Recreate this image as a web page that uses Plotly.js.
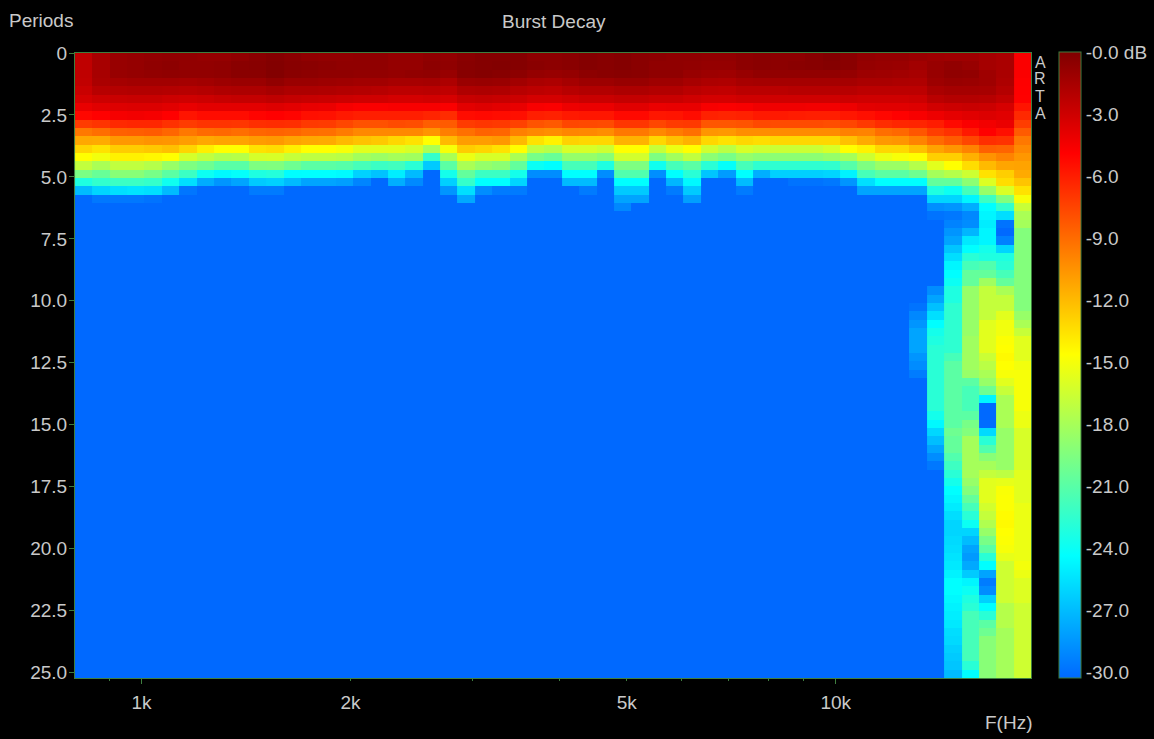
<!DOCTYPE html>
<html><head><meta charset="utf-8">
<script src="https://cdn.plot.ly/plotly-3.0.1.min.js"></script>
<style>html,body{margin:0;padding:0;background:#000}#p{width:1154px;height:739px}</style>
</head><body><div id="p"></div>
<script>
// Cell edges of the frequency axis, Hz
const freqEdges=[802.3,849.9,900.4,953.8,1010,1070,1134,1201,1273,1348,1428,1513,1603,1698,1799,1905,2018,2138,2265,2399,2542,2693,2852,3022,3201,3391,3592,3805,4031,4270,4524,4792,5077,5378,5697,6035,6394,6773,7175,7601,8052,8530,9036,9573,10140,10740,11380,12060,12770,13530,14330,15180,16080,17040,18050,19110];
// dB level per row (top to bottom) in each frequency column; rows not listed sit at the -30 dB floor
const c00=[-2.4,-2.4,-2.4,-2.5,-2.8,-3.2,-4,-5.1,-7.1,-9.4,-11.2,-12.9,-14.5,-16.8,-19.5,-23,-26.8];
const c01=[-1.5,-1.5,-1.5,-1.6,-2.1,-2.9,-3.7,-4.9,-6.8,-9,-11.3,-13.4,-15,-17.7,-20.2,-22.3,-25.8,-29.4];
const c02=[-0.9,-0.9,-0.9,-1.4,-2,-2.8,-3.6,-4.5,-6.4,-8.5,-10.6,-12.6,-14,-16.9,-19,-21.9,-25.4,-29.4];
const c03=[-0.8,-0.8,-0.8,-1.3,-1.9,-2.7,-3.5,-4.4,-6.3,-8.4,-10.6,-12.6,-14,-16.9,-19,-21.9,-25.2,-29.4];
const c04=[-0.7,-0.6,-0.7,-1.3,-1.9,-2.7,-3.5,-4.5,-6.3,-8.3,-10.4,-12.4,-14.2,-17.3,-19.6,-22.2,-25.4,-29.6];
const c05=[-0.6,-0.5,-0.6,-1.3,-2,-2.9,-3.7,-4.85,-6.7,-8.7,-10.5,-12.1,-14.5,-18.4,-20.7,-23.6,-26.8];
const c06=[-0.7,-0.7,-0.7,-1.4,-2.1,-3,-4,-5.6,-7.1,-9.4,-10.8,-12.9,-16.1,-19.4,-21.9,-25.4,-29.5];
const c07=[-0.8,-0.7,-0.7,-1.3,-2,-2.9,-3.8,-5.3,-6.8,-8.9,-11.2,-13.9,-16.9,-20,-23.7,-27.4];
const c08=[-0.8,-0.6,-0.6,-1.1,-1.8,-2.7,-3.8,-5.3,-6.8,-8.8,-11,-14.5,-17.5,-20.8,-24.4,-28.3];
const c09=[-0.6,-0.4,-0.4,-1,-1.7,-2.6,-3.8,-5.3,-6.9,-9,-11,-14.5,-17.3,-20.8,-24,-27.7];
const c10=[-0.4,-0.3,-0.4,-1,-1.7,-2.6,-3.8,-5,-6.6,-8.7,-10.7,-13.4,-16.1,-19.4,-23,-26.2,-29.3];
const c11=[-0.2,-0.1,-0.1,-0.7,-1.5,-2.4,-3.6,-4.85,-6.5,-8.6,-10.6,-13.2,-16,-19.3,-22.8,-26,-29.3];
const c12=[-0.4,-0.3,-0.4,-1,-1.7,-2.6,-3.8,-5,-6.6,-8.7,-11,-13.9,-16.7,-20,-24.2,-26.8];
const c13=[-0.6,-0.4,-0.5,-1,-1.7,-2.7,-4,-5.4,-7,-9,-11.2,-14.5,-17,-20.7,-24.15,-27.7];
const c14=[-0.7,-0.5,-0.6,-1.1,-1.8,-2.8,-4.1,-5.5,-7.1,-9.1,-11.3,-14.5,-17,-20.7,-24.15,-27.7];
const c15=[-0.7,-0.6,-0.6,-1.2,-1.9,-2.9,-4.5,-5.8,-7.5,-9.5,-11.8,-14.8,-17.2,-20.9,-24.3,-27.9];
const c16=[-0.6,-0.6,-0.7,-1.3,-2,-3,-4.7,-6,-7.9,-10,-12.2,-15.6,-18,-21.5,-25.9,-28.9];
const c17=[-0.6,-0.6,-0.7,-1.3,-2.1,-3,-4.7,-6,-7.9,-10,-12.4,-15.6,-18.3,-21.9,-26.5];
const c18=[-0.8,-0.8,-0.8,-1.5,-2.3,-3.2,-4.6,-6,-7.7,-10,-13,-15.6,-17.9,-21.7,-24.8,-27.3];
const c19=[-0.8,-0.8,-0.7,-1.5,-2.3,-3.2,-4.6,-6,-7.8,-10,-13.4,-16,-18.1,-22.6,-26.8,-28.7];
const c20=[-0.6,-0.5,-0.6,-1.4,-2.2,-3.1,-4.6,-6.2,-8.4,-10.5,-14.5,-17.7,-22.2,-26.2];
const c21=[-0.7,-0.6,-0.9,-1.7,-2.4,-3.3,-4.7,-6.5,-8.3,-9.6,-11.9,-14.8,-17.7,-20.7,-23.4,-26,-28.3];
const c22=[-0.4,-0.3,-0.3,-1,-1.8,-2.7,-3.8,-5.3,-7.1,-9.1,-10.8,-12.6,-15.2,-17.7,-20.4,-22.2,-25.4,-27.5];
const c23=[-0.2,-0.2,-0.2,-0.9,-1.7,-2.6,-3.6,-5.2,-6.9,-8.6,-10.8,-12.9,-16,-18.5,-21.9,-24.15,-28.6];
const c24=[-0.2,-0.1,-0.3,-1,-1.8,-2.7,-3.8,-5.3,-7,-8.7,-10.6,-13.4,-16,-18.9,-21.9,-24.15,-29.3];
const c25=[-0.2,-0.2,-0.5,-1.3,-2.1,-2.9,-4,-5.4,-7.3,-9.7,-11.9,-14.5,-17.7,-20.4,-23.4,-25.8,-29.3];
const c26=[-0.5,-0.4,-0.8,-1.6,-2.3,-3.2,-4.6,-6,-8,-10,-13.4,-16.9,-19.7,-23.8,-28.6];
const c27=[-0.5,-0.5,-0.9,-1.7,-2.4,-3.2,-4.7,-6.1,-8.2,-10.2,-14,-17.3,-20.2,-24.2,-28.6];
const c28=[-0.4,-0.4,-0.8,-1.4,-2.1,-3,-4.2,-5.8,-7.5,-9.9,-12.8,-16,-18.5,-21.5,-24.15,-26.8];
const c29=[-0.2,-0.2,-0.5,-1.1,-1.9,-2.8,-4.1,-5.7,-7.6,-10,-13,-16,-18.5,-21.5,-24.15,-26.8,-29.3];
const c30=[-0.3,-0.3,-0.4,-1.1,-1.9,-2.8,-4.1,-5.7,-7.7,-10.2,-13,-16.4,-19,-23,-28.6];
const c31=[-0.2,-0.2,-0.3,-0.9,-1.7,-2.6,-3.7,-5.2,-6.9,-9.4,-11.6,-14.5,-16.2,-19.4,-21.1,-24.15,-26.2,-27.7,-28.8];
const c32=[-0.4,-0.4,-0.4,-0.9,-1.7,-2.6,-3.7,-5.2,-6.9,-9.4,-11.6,-14.5,-16.2,-19.4,-21.1,-24.15,-26.2,-27.7];
const c33=[-0.5,-0.6,-0.6,-1.2,-1.9,-2.8,-4.1,-5.7,-7.5,-10,-13,-16.7,-19.4,-23.6,-28.5];
const c34=[-0.6,-0.6,-0.6,-1.2,-1.9,-2.8,-4,-5.6,-7.1,-9.5,-12.1,-15.2,-18,-21.5,-24.15,-27,-29.3];
const c35=[-0.6,-0.7,-0.9,-1.5,-2.2,-3,-4,-5.3,-7,-9.1,-11.6,-14.5,-16.9,-20.7,-22.6,-24.4,-26.2,-27.9];
const c36=[-0.7,-0.8,-1.1,-1.7,-2.4,-3.2,-4.6,-6.1,-8.1,-10.5,-13,-16.3,-18.9,-22.6,-26.4];
const c37=[-0.7,-0.8,-1.2,-1.8,-2.5,-3.2,-4.7,-6.2,-8.1,-10.6,-13.4,-17.1,-19.6,-24,-28];
const c38=[-0.5,-0.5,-0.9,-1.5,-2.2,-3,-4.6,-6.1,-8,-10.2,-13,-16,-18.5,-21.5,-24.15,-26.8,-29.3];
const c39=[-0.4,-0.4,-0.7,-1.4,-2.2,-3,-4.3,-5.8,-7.6,-10.2,-13.2,-16.4,-18.9,-22.4,-27.3];
const c40=[-0.5,-0.5,-0.7,-1.4,-2.2,-3,-4.3,-5.8,-7.7,-10.1,-13,-16.5,-18.9,-22.4,-26];
const c41=[-0.5,-0.4,-0.7,-1.4,-2.1,-3,-4.3,-5.9,-7.7,-10.1,-13,-16.5,-18.9,-22.4,-26,-29.6];
const c42=[-0.3,-0.3,-0.7,-1.4,-2.1,-3,-4.4,-6,-7.7,-10.1,-13,-16.5,-18.9,-22.4,-26,-29.6];
const c43=[-0.1,-0.2,-0.7,-1.4,-2.1,-3,-4.4,-6,-7.8,-10.1,-13,-16,-18.5,-22.3,-25.8,-29.4];
const c44=[-0.4,-0.4,-0.8,-1.4,-2.1,-2.9,-4.2,-5.7,-7.5,-9.7,-12.1,-14.5,-17.9,-20.9,-24.6,-28.3];
const c45=[-0.7,-0.8,-1.1,-1.6,-2.3,-3,-3.8,-5.4,-7,-9.8,-11.3,-14,-16.4,-19.4,-21.5,-25.4,-27.7];
const c46=[-0.8,-0.9,-1.2,-1.6,-2.3,-3,-3.7,-5.1,-6.5,-9,-10.6,-13,-15.2,-18.3,-20.7,-24.15,-27.7];
const c47=[-0.8,-1,-1.3,-1.7,-2.3,-3,-3.7,-4.9,-6.3,-8.8,-10.5,-13,-14.8,-18.3,-20.7,-24.15,-27.7];
const c48=[-1,-1.3,-1.5,-1.8,-2.3,-2.9,-3.6,-4.6,-6.2,-8.1,-9.8,-12.1,-14.5,-17.3,-20,-24.15,-27.7,
 -30,-30,-30,-30,-30,-30,-30,-30,-30,-30,-30,-30,-30,-29.6,-28.8,-28.3,-27.7,-27.7,-27.7,-28.3,-28.65,-29.25];
const c49=[-1.1,-0.9,-0.9,-1.1,-1.6,-2.2,-3.1,-4.2,-5.9,-7.2,-8.9,-11,-12.7,-15.6,-17.9,-20.4,-23,-25.8,-28.5,-29.6,
 -30,-30,-30,-30,-30,-30,-30,-30,-28.6,-27.7,-26.6,-25.4,-24.15,-23.4,-23,-22.6,-22.6,-22.6,-22.6,-22.6,-22.6,-22.6,-22.6,-23.4,-24.4,-25.7,-26.7,-27.7,-28.6,-29.4];
const c50=[-1.2,-0.7,-0.6,-0.9,-1.4,-2,-2.9,-3.9,-5.2,-6.75,-8.3,-10.5,-12.7,-14.5,-17.3,-20.4,-23.7,-25.8,-28.3,-29.4,
 -29,-28.3,-27.7,-26.4,-25.45,-24.5,-24.15,-23.75,-23,-23,-22.4,-22.4,-22.4,-22.4,-22.4,-22.4,-21.5,-20.7,-20.7,-20.7,-20.7,-20.7,-20.7,-20.7,-20.7,
 -20,-20.35,-20.35,-21.1,-21.85,-22.6,-23.4,-24.15,-24.5,-24.9,-25.45,-25.8,-25.8,-25.6,-25.45,-25.2,-25,-24.6,-24.15,-24.15,-24.4,-24.6,-24.8,-25,-25.45,-25.6,-26,-26.2,-26.4,-26.8];
const c51=[-1.2,-0.9,-0.7,-1,-1.4,-2,-2.8,-3.7,-4.7,-5.8,-7.5,-9.8,-11.5,-13.2,-16.4,-18.85,-21.5,-24.5,-27.3,-28.8,
 -28.6,-27,-25,-24.15,-22.6,-21.5,-20.35,-20.35,-18.45,-18.45,-18.45,-18.45,-18.45,-18.45,-18.1,-18.1,-18.1,-18.1,-18.45,-20.7,-21.5,-21.5,-21.5,-20.7,-19.6,
 -19.2,-17.9,-17.9,-17.9,-17.9,-17.9,-18.45,-19.2,-20.35,-21.5,-22.6,-23.75,-25.8,-26.75,-27.7,-28.1,-27.5,-26.2,-24.5,-23.75,-23,-22.6,-21.5,-21.5,-21.5,-21.5,-21.5,-21.5,-22.6,-24.15];
const c52=[-1.4,-1.4,-1.2,-1.2,-1.5,-2.1,-2.9,-3.5,-4.4,-4.85,-6.6,-8.5,-10.4,-11.9,-13.4,-15.8,-18.45,-21.85,-24.15,-24.5,
 -24.85,-24.5,-24.5,-23.4,-23,-21.1,-20.35,-18.1,-16.75,-16.75,-16.75,-16.75,-15.6,-15.6,-15.6,-15.6,-16.5,-17.1,-17.7,-18.45,-20,-24.5,-30,-30,-29.9,
 -25.6,-22.6,-21.1,-19,-17.9,-16.75,-15.6,-15.6,-15.6,-16.2,-16.75,-17.5,-18.45,-19.6,-20.7,-22.6,-24.15,-27.7,-29.25,-28.65,-26,-24.15,-22.6,-20.7,-20,-19,-19,-19,-19,-19];
const c53=[-1.6,-1.6,-1.6,-1.7,-2,-2.5,-3.3,-3.7,-4.1,-5.4,-6.75,-8.65,-9.8,-11.1,-12.65,-13.2,-15.9,-19.2,-22.25,-25.45,
 -29.6,-30,-29.1,-25.8,-23,-22.6,-21.5,-20.35,-17.7,-16.75,-16.75,-15.6,-15,-15,-14.6,-14.5,-14.3,-14.5,-14.8,-15.6,-16.6,-17.7,-17.7,-17.7,-17.7,
 -18.45,-18.45,-18.45,-18.45,-18.45,-17,-15.4,-14.7,-14.6,-14.6,-14.4,-14.3,-14.5,-14.6,-14.8,-15.4,-16.35,-16.35,-16.35,-16.35,-16.35,-17.3,-17.3,-17.3,-17.9,-17.9,-17.9,-17.9,-17.9,-17.9];
const c54=[-4.7,-4.7,-4.7,-4.8,-4.85,-4.9,-5.6,-6.4,-7.15,-8.3,-9.4,-10,-10.55,-11,-11.3,-12.25,-13.4,-14.8,-16.6,-17.7,
 -17.9,-19.2,-19.2,-19.2,-19.2,-19.2,-19.2,-19.2,-19.2,-19.2,-19.2,-18.45,-17.7,-16.6,-15.6,-15.6,-15.6,-15,-14.8,-14.8,-14.8,-14.8,-14.8,-15.2,-15.2,
 -16,-16,-16,-16,-16,-15.6,-15.6,-15.6,-15.6,-15.2,-15.2,-15.2,-15.2,-15.2,-15.2,-15.2,-14.9,-15.2,-15.8,-15.8,-15.8,-16.35,-16.35,-16.35,-16.35,-16.35,-16.35,-16.35,-16.35,-16.35];
const columns=[c00,c01,c02,c03,c04,c05,c06,c07,c08,c09,c10,c11,c12,c13,c14,c15,c16,c17,c18,c19,c20,c21,c22,c23,c24,c25,c26,c27,c28,c29,c30,c31,c32,c33,c34,c35,c36,c37,c38,c39,c40,c41,c42,c43,c44,c45,c46,c47,c48,c49,c50,c51,c52,c53,c54];
const periodTicks=[0,2.5,5,7.5,10,12.5,15,17.5,20,22.5,25];
const periodLabels=['0','2.5','5.0','7.5','10.0','12.5','15.0','17.5','20.0','22.5','25.0'];
const freqTicks=[1000,2000,5000,10000];
const freqLabels=['1k','2k','5k','10k'];
const freqMinor=[900,3000,4000,6000,7000,8000,9000];
const freqLong=[1000,10000];
const dbTicks=[-0.03,-3,-5.97,-8.94,-11.91,-14.88,-17.85,-20.82,-23.79,-26.76,-29.75];
const dbLabels=['-0.0 dB','-3.0','-6.0','-9.0','-12.0','-15.0','-18.0','-21.0','-24.0','-27.0','-30.0'];
const brand=['A','R','T','A'];

const ROWS=75, FLOOR=-30;
const z=[];
for(let r=0;r<ROWS;r++){z.push(columns.map(c=>r<c.length?c[r]:FLOOR));}

const ink='#c9c9c9', line='#3f7f3f';
const font={family:'"Liberation Sans",Arial,sans-serif',size:19,color:ink};
const xRange=[2.9043,4.2813], yRange=[25.22,0];

const traces=[{
 type:'heatmap',x:freqEdges,y0:0.168,dy:0.3363,z:z,zmin:-30,zmax:0,zsmooth:false,hoverongaps:false,
 colorscale:[[0,'rgb(0,105,255)'],[0.195,'rgb(0,255,255)'],[0.5167,'rgb(255,255,0)'],[0.8383,'rgb(255,0,0)'],[1,'rgb(128,0,0)']],
 colorbar:{xref:'paper',yref:'paper',x:(1058.5-75)/957,xanchor:'left',y:0,yanchor:'bottom',
  thicknessmode:'pixels',thickness:22,lenmode:'pixels',len:625.5,xpad:0,ypad:0,
  outlinecolor:line,outlinewidth:1,ticks:'',tickmode:'array',tickvals:dbTicks,ticktext:dbLabels,tickfont:font,ticklabelposition:'outside'}
},{
 type:'scatter',x:freqLong,y:[0,0],xaxis:'x2',yaxis:'y',mode:'none',showlegend:false,hoverinfo:'skip'
}];

const layout={
 width:1154,height:739,paper_bgcolor:'#000',plot_bgcolor:'#000',font:font,
 margin:{l:75,r:122,t:53,b:60.5,pad:0},showlegend:false,
 xaxis:{type:'log',range:xRange,tickmode:'array',tickvals:freqTicks,ticktext:freqLabels,ticks:'outside',ticklen:2,tickwidth:1,tickcolor:line,
  linecolor:line,linewidth:1,mirror:true,showgrid:false,zeroline:false,tickfont:font,ticklabelstandoff:5,
  minor:{tickmode:'array',tickvals:freqMinor,ticks:'outside',ticklen:2,tickwidth:1,tickcolor:line,showgrid:false}},
 xaxis2:{type:'log',range:xRange,overlaying:'x',anchor:'y',side:'bottom',tickmode:'array',tickvals:freqLong,ticks:'outside',ticklen:5,tickwidth:1,tickcolor:line,
  showticklabels:false,showgrid:false,zeroline:false,showline:false},
 yaxis:{range:yRange,tickmode:'array',tickvals:periodTicks,ticktext:periodLabels,ticks:'outside',ticklen:5,tickwidth:1,tickcolor:line,
  linecolor:line,linewidth:1,mirror:true,showgrid:false,zeroline:false,tickfont:font,ticklabelstandoff:-2},
 annotations:[
  {text:'Burst Decay',xref:'paper',yref:'paper',x:(555-75)/957,y:1+(53-21)/625.5,xanchor:'center',yanchor:'middle',showarrow:false,font:font},
  {text:'Periods',xref:'paper',yref:'paper',x:(7-75)/957,y:1+(53-20.5)/625.5,xanchor:'left',yanchor:'middle',showarrow:false,font:font},
  {text:'F(Hz)',xref:'paper',yref:'paper',x:1.003,y:-(723-678.5)/625.5,xanchor:'right',yanchor:'middle',showarrow:false,font:font},
 ].concat(brand.map((t,i)=>({text:t,xref:'paper',yref:'paper',x:(1041.5-75)/957,y:1-([62.5,79,96.5,114][i]-53)/625.5,xanchor:'center',yanchor:'middle',showarrow:false,font:Object.assign({},font,{size:16})})))
};
Plotly.newPlot('p',traces,layout,{staticPlot:true,displayModeBar:false});
</script></body></html>
